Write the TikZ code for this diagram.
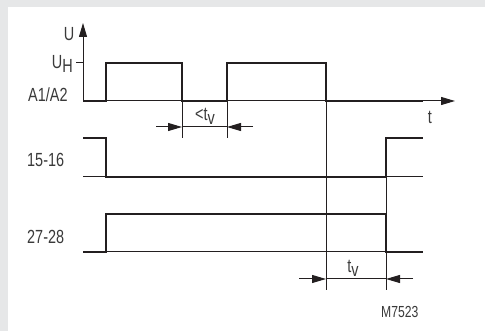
\documentclass[tikz,border=0pt]{standalone}
\usepackage{fontspec}
\setmainfont{Liberation Sans}[FakeStretch=0.76]
\usetikzlibrary{arrows.meta}
\definecolor{ink}{HTML}{231F20}
\definecolor{txt}{HTML}{3A3A3A}
\definecolor{bg}{HTML}{E6E7E8}
\begin{document}
\begin{tikzpicture}[x=1pt,y=-1pt,
 sig/.style={line width=2.8pt, line join=miter, color=ink},
 thinl/.style={line width=1pt, color=ink},
 lbl/.style={inner sep=0pt, font=\fontsize{19}{19}\selectfont, text=txt},
 small/.style={inner sep=0pt, font=\fontsize{16}{16}\selectfont, text=txt},
 tipa/.style={-{Triangle[length=14pt,width=8pt]}}]
\useasboundingbox (0,0) rectangle (485,331);
\fill[bg] (0,0) rectangle (485,331);
\fill[white] (8,7) rectangle (485,331);
% coordinates
\coordinate (O) at (83,101);
\coordinate (Utop) at (83,23);
\coordinate (Tend) at (455,101);
\coordinate (Htick) at (76,63);
\coordinate (Haxis) at (83,63);
% axes
\draw[thinl, tipa] (O) -- (Utop);
\draw[thinl, tipa] (O) -- (Tend);
\draw[thinl] (Htick) -- (Haxis);
% baselines
\coordinate (b1a) at (83,177); \coordinate (b1b) at (423,177);
\coordinate (b2a) at (83,252); \coordinate (b2b) at (423,252);
\draw[thinl] (b1a) -- (b1b);
\draw[thinl] (b2a) -- (b2b);
% signals
\draw[sig] (83,101) -- (106,101) -- (106,63) -- (182,63) -- (182,101) -- (227,101) -- (227,63) -- (326,63) -- (326,101) -- (423,101);
\draw[sig] (83,138) -- (106,138) -- (106,177) -- (386,177) -- (386,138) -- (423,138);
\draw[sig] (83,252) -- (106,252) -- (106,214) -- (386,214) -- (386,252) -- (423,252);
% dimension verticals
\coordinate (v1a) at (182,101); \coordinate (v1b) at (182,138);
\coordinate (v2a) at (227,101); \coordinate (v2b) at (227,138);
\coordinate (v3a) at (326,101); \coordinate (v3b) at (326,290);
\coordinate (v4a) at (386,177); \coordinate (v4b) at (386,290);
\draw[thinl] (v1a) -- (v1b);
\draw[thinl] (v2a) -- (v2b);
\draw[thinl] (v3a) -- (v3b);
\draw[thinl] (v4a) -- (v4b);
% dimension arrows
\coordinate (d1l) at (156,127); \coordinate (d1a) at (182,127);
\coordinate (d1b) at (227,127); \coordinate (d1r) at (253,127);
\draw[thinl] (d1a) -- (d1b);
\draw[thinl, tipa] (d1l) -- (d1a);
\draw[thinl, tipa] (d1r) -- (d1b);
\coordinate (d2l) at (299,279); \coordinate (d2a) at (326,279);
\coordinate (d2b) at (386,279); \coordinate (d2r) at (413,279);
\draw[thinl] (d2a) -- (d2b);
\draw[thinl, tipa] (d2l) -- (d2a);
\draw[thinl, tipa] (d2r) -- (d2b);
% labels
\node[lbl] (U) at (69,34) {U};
\node[lbl, anchor=base east] (UH) at (73,69) {U\raisebox{-4pt}{H}};
\node[lbl, anchor=base west] (A) at (28,102) {A1/A2};
\node[lbl, anchor=west] (S1) at (27,160) {15-16};
\node[lbl, anchor=west] (S2) at (27,237) {27-28};
\node[lbl] (t) at (430,117) {t};
\node[lbl, anchor=base] (lt) at (205,121) {<t\raisebox{-4pt}{v}};
\node[lbl, anchor=base] (tv) at (353,273) {t\raisebox{-4pt}{v}};
\node[small, anchor=base west] (M) at (381,317) {M7523};
\end{tikzpicture}
\end{document}
